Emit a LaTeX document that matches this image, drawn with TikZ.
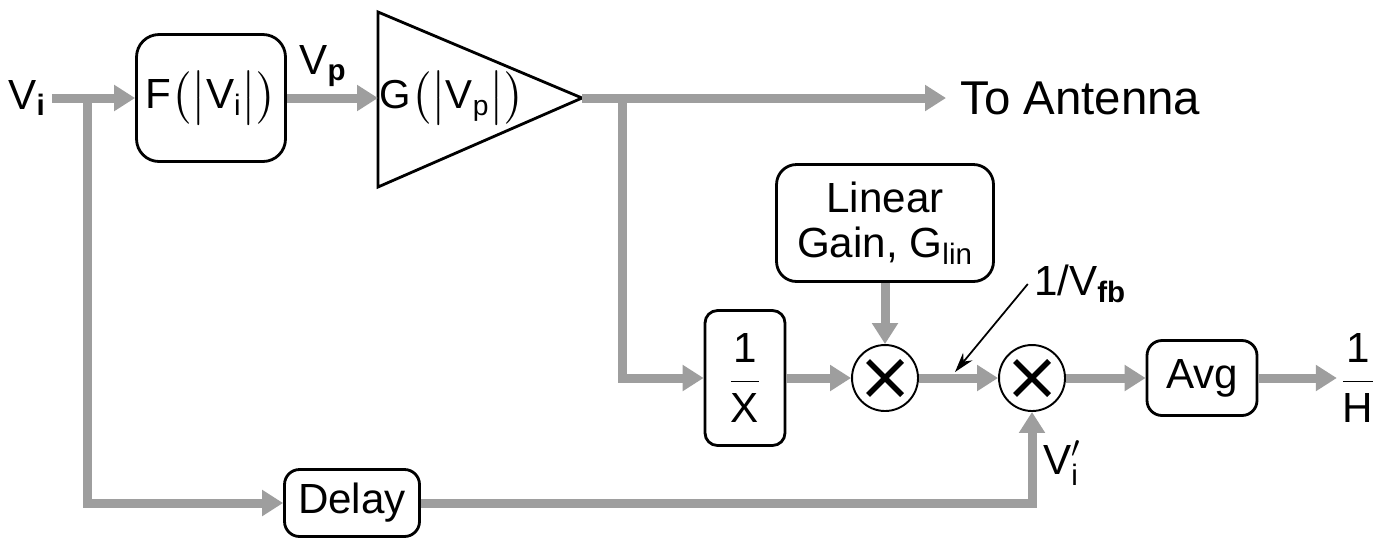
\documentclass[tikz,border=0pt]{standalone}
\usepackage{amsmath}
\usepackage{fontspec}
\setmainfont{Liberation Sans}
\usetikzlibrary{arrows.meta, calc}
\definecolor{wiregray}{HTML}{9E9E9E}

\begin{document}
\begin{tikzpicture}[
      x=0.02cm, y=-0.02cm,
      font=\fontsize{24}{26}\selectfont,
      box/.style={rectangle, draw, line width=1.6pt, rounded corners=0.3cm, align=center, inner sep=0pt},
      mult/.style={circle, draw, line width=1.1pt, minimum size=1.32cm, inner sep=0pt},
      wire/.style={draw=wiregray, line width=0.18cm},
      arrow/.style={wire, -{Triangle[length=0.42cm, width=0.5cm]}},
      pointer/.style={-{Stealth[length=0.4cm, width=0.24cm]}, line width=1pt},
      cross/.style={line width=0.11cm}
    ]
    \useasboundingbox (0,0) rectangle (1381,539);

    % forward path
    \node (vi) at (27,98) {V\textsubscript{\textbf{i}}};
    \node[box, minimum width=2.98cm, minimum height=2.54cm, rounded corners=0.45cm] (f) at (211,98) {F$\bigl(\bigl|$V\textsubscript{i}$\bigr|\bigr)$};
    \node (vp) at (323,66) {V\textsubscript{\textbf{p}}};
    \draw[line width=1.6pt] (378,12) -- (582,98) coordinate (paout) -- (378,187) -- cycle;
    \coordinate (pain) at (378,98);
    \node[font=\fontsize{23}{25}\selectfont] (g) at (452,98) {G$\bigl(\bigl|$V\textsubscript{p}$\bigr|\bigr)$};
    \node[anchor=west, inner xsep=8pt, font=\fontsize{27}{29}\selectfont] (ant) at (946,98) {To Antenna};
    \coordinate (s1) at (87,98);
    \coordinate (s2) at (622,98);

    % feedback path
    \node[box, minimum width=1.6cm, minimum height=2.7cm, rounded corners=0.25cm] (recip) at (745,378) {$\dfrac{\text{1}}{\text{X}}$};
    \node[box, minimum width=4.34cm, minimum height=2.34cm, rounded corners=0.4cm] (gain) at (885,223) {Linear\\Gain, G\textsubscript{lin}};
    \node[mult] (m1) at (885,378) {};
    \node[mult] (m2) at (1032,378) {};
    \node[box, minimum width=2.2cm, minimum height=1.5cm] (avg) at (1202,378) {Avg};
    \node[inner sep=2pt] (out) at (1358,378) {$\dfrac{\text{1}}{\text{H}}$};
    \node[box, minimum width=2.7cm, minimum height=1.34cm] (delay) at (352,503) {Delay};
    \node (vfb) at (1080,284) {1/V\textsubscript{\textbf{fb}}};
    \node (vip) at (1062,463) {$\text{V}'_{\text{i}}$};
    \coordinate (vfbtip) at (955,372);

    \draw[cross] ($(m1)+(-17,-17)$) -- ($(m1)+(17,17)$) ($(m1)+(-17,17)$) -- ($(m1)+(17,-17)$);
    \draw[cross] ($(m2)+(-17,-17)$) -- ($(m2)+(17,17)$) ($(m2)+(-17,17)$) -- ($(m2)+(17,-17)$);

    % connectors
    \draw[arrow] (vi) -- (f);
    \draw[arrow] (s1) |- (delay);
    \draw[arrow] (f) -- (pain);
    \draw[arrow] (paout) -- (ant);
    \draw[arrow] (s2) |- (recip);
    \draw[arrow] (recip) -- (m1);
    \draw[arrow] (gain) -- (m1);
    \draw[arrow] (m1) -- (m2);
    \draw[arrow] (m2) -- (avg);
    \draw[arrow] (avg) -- (out);
    \draw[arrow] (delay) -| (m2);
    \draw[pointer] (vfb.west) -- (vfbtip);
  \end{tikzpicture}
\end{document}
